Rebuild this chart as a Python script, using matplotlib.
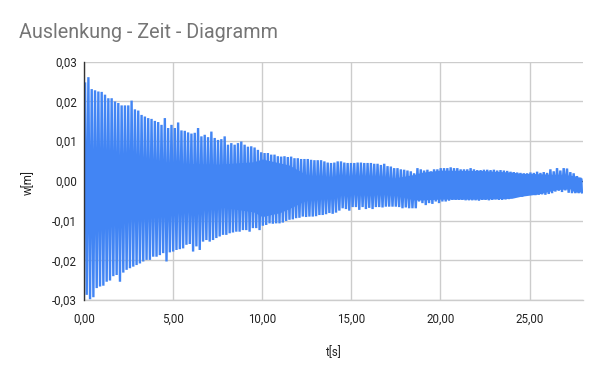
import numpy as np
import matplotlib
matplotlib.use("Agg")
import matplotlib.pyplot as plt
from matplotlib.ticker import FuncFormatter

# ---------------- data ----------------
title = "Auslenkung - Zeit - Diagramm"
x_label = "t[s]"
y_label = "w[m]"

first_peak_time = 0.06     # s
cycle_period = 0.1865      # s, spacing of the visible peaks

upper_peaks = [
    0.0245, 0.0261, 0.0231, 0.0228, 0.0225, 0.0224, 0.0217, 0.0208, 0.0208, 0.0200,
    0.0196, 0.0190, 0.0190, 0.0190, 0.0202, 0.0180, 0.0177, 0.0166, 0.0162, 0.0158,
    0.0156, 0.0151, 0.0148, 0.0141, 0.0158, 0.0133, 0.0141, 0.0133, 0.0147, 0.0127,
    0.0126, 0.0122, 0.0119, 0.0121, 0.0133, 0.0112, 0.0116, 0.0110, 0.0124, 0.0108,
    0.0103, 0.0105, 0.0112, 0.0091, 0.0095, 0.0091, 0.0095, 0.0099, 0.0091, 0.0086,
    0.0087, 0.0084, 0.0078, 0.0072, 0.0070, 0.0070, 0.0066, 0.0066, 0.0062, 0.0061,
    0.0062, 0.0060, 0.0061, 0.0057, 0.0057, 0.0055, 0.0055, 0.0055, 0.0053, 0.0052,
    0.0052, 0.0052, 0.0049, 0.0046, 0.0045, 0.0046, 0.0049, 0.0049, 0.0046, 0.0045,
    0.0045, 0.0045, 0.0046, 0.0046, 0.0045, 0.0045, 0.0045, 0.0043, 0.0043, 0.0040,
    0.0043, 0.0037, 0.0036, 0.0032, 0.0032, 0.0029, 0.0028, 0.0026, 0.0024, 0.0019,
    0.0032, 0.0029, 0.0026, 0.0028, 0.0024, 0.0029, 0.0029, 0.0032, 0.0032, 0.0032,
    0.0034, 0.0032, 0.0032, 0.0029, 0.0029, 0.0029, 0.0032, 0.0029, 0.0027, 0.0027,
    0.0028, 0.0028, 0.0027, 0.0028, 0.0026, 0.0027, 0.0026, 0.0025, 0.0023, 0.0022,
    0.0021, 0.0020, 0.0019, 0.0019, 0.0021, 0.0020, 0.0023, 0.0020, 0.0022, 0.0020,
    0.0029, 0.0024, 0.0032, 0.0026, 0.0032, 0.0031, 0.0022, 0.0019, 0.0012, 0.0008,
]

lower_peaks = [
    -0.0287, -0.0298, -0.0293, -0.0270, -0.0266, -0.0264, -0.0254, -0.0251, -0.0240, -0.0237,
    -0.0254, -0.0231, -0.0224, -0.0220, -0.0216, -0.0212, -0.0208, -0.0203, -0.0199, -0.0199,
    -0.0191, -0.0191, -0.0187, -0.0182, -0.0203, -0.0180, -0.0178, -0.0174, -0.0172, -0.0170,
    -0.0161, -0.0159, -0.0178, -0.0165, -0.0174, -0.0153, -0.0149, -0.0153, -0.0149, -0.0144,
    -0.0140, -0.0136, -0.0136, -0.0132, -0.0130, -0.0128, -0.0128, -0.0124, -0.0124, -0.0128,
    -0.0119, -0.0119, -0.0124, -0.0113, -0.0111, -0.0107, -0.0108, -0.0107, -0.0107, -0.0105,
    -0.0101, -0.0098, -0.0097, -0.0094, -0.0093, -0.0090, -0.0091, -0.0090, -0.0090, -0.0089,
    -0.0086, -0.0086, -0.0084, -0.0081, -0.0083, -0.0080, -0.0075, -0.0069, -0.0071, -0.0075,
    -0.0066, -0.0066, -0.0073, -0.0066, -0.0071, -0.0068, -0.0071, -0.0066, -0.0066, -0.0067,
    -0.0065, -0.0065, -0.0065, -0.0065, -0.0066, -0.0069, -0.0067, -0.0069, -0.0069, -0.0069,
    -0.0052, -0.0056, -0.0061, -0.0056, -0.0058, -0.0052, -0.0056, -0.0052, -0.0052, -0.0050,
    -0.0048, -0.0048, -0.0048, -0.0048, -0.0049, -0.0049, -0.0049, -0.0049, -0.0050, -0.0048,
    -0.0048, -0.0049, -0.0048, -0.0047, -0.0048, -0.0048, -0.0047, -0.0046, -0.0042, -0.0040,
    -0.0040, -0.0040, -0.0037, -0.0035, -0.0035, -0.0036, -0.0035, -0.0034, -0.0035, -0.0033,
    -0.0031, -0.0027, -0.0025, -0.0028, -0.0024, -0.0030, -0.0031, -0.0031, -0.0031, -0.0029,
]

# dense inner band (where the oscillation fills the area solidly)
core_times = [0.0, 1.0, 2.5, 5.0, 7.5, 9.5, 10.0, 11.0, 11.5, 12.5, 13.5, 14.5, 15.5,
              16.7, 17.5, 18.5, 19.0, 20.0, 22.3, 24.0, 24.5, 25.5, 26.5, 27.3, 27.5, 27.95]
core_upper = [0.0065, 0.0060, 0.0055, 0.0045, 0.0042, 0.0048, 0.0055, 0.0045, 0.0040,
              0.0015, 0.0007, -0.0004, -0.0008, -0.0002, 0.0008, 0.0016, 0.0022, 0.0027,
              0.0026, 0.0022, 0.0019, 0.0018, 0.0016, 0.0014, 0.0013, 0.0007]
core_lower = [-0.0100, -0.0095, -0.0088, -0.0080, -0.0065, -0.0078, -0.0090, -0.0080,
              -0.0070, -0.0048, -0.0035, -0.0014, -0.0018, -0.0022, -0.0035, -0.0048,
              -0.0048, -0.0046, -0.0046, -0.0044, -0.0039, -0.0033, -0.0022, -0.0020,
              -0.0028, -0.0028]

x_ticks = [0, 5, 10, 15, 20, 25]
y_ticks = [-0.03, -0.02, -0.01, 0.0, 0.01, 0.02, 0.03]
x_max = 28.0

# ---------------- style ----------------
blue = "#4285F4"
grid_col = "#cccccc"
axis_col = "#333333"
text_col = "#222222"
title_col = "#757575"
plt.rcParams["font.family"] = ["Roboto", "DejaVu Sans"]

fig = plt.figure(figsize=(6.0, 3.71), dpi=100)
ax = fig.add_axes([84 / 600, 1 - 300 / 371, (583 - 84) / 600, (300 - 61.7) / 371])

# zig-zag series through the alternating peaks
n = len(upper_peaks)
t_up = first_peak_time + cycle_period * np.arange(n)
t_lo = t_up + cycle_period / 2
t_series = np.empty(2 * n)
w_series = np.empty(2 * n)
t_series[0::2] = t_up
t_series[1::2] = t_lo
w_series[0::2] = upper_peaks
w_series[1::2] = lower_peaks

ax.axhline(0, color=axis_col, lw=1.0, zorder=1.5)
ax.fill_between(core_times, core_lower, core_upper, color=blue, lw=0, zorder=2)
ax.plot(t_series, w_series, color=blue, lw=1.7, zorder=3, solid_joinstyle="bevel")

ax.set_xlim(0, x_max)
ax.set_ylim(y_ticks[0], y_ticks[-1])
ax.set_xticks(x_ticks)
ax.set_yticks(y_ticks)
fmt = FuncFormatter(lambda v, p: f"{v:.2f}".replace(".", ",").replace("-0,00", "0,00"))
ax.xaxis.set_major_formatter(fmt)
ax.yaxis.set_major_formatter(fmt)
ax.grid(True, color=grid_col, lw=1.0, zorder=0)
ax.set_axisbelow(True)
ax.tick_params(length=0, labelsize=8.3, labelcolor=text_col)
ax.tick_params(axis="y", pad=5)
ax.tick_params(axis="x", pad=9)

for s in ("top", "right"):
    ax.spines[s].set_visible(False)
ax.spines["bottom"].set_color(grid_col)
ax.spines["bottom"].set_linewidth(1.0)
ax.spines["left"].set_color(axis_col)
ax.spines["left"].set_linewidth(1.0)
ax.spines["left"].set_zorder(5)

fig.text(19 / 600, 1 - 32 / 371, title, fontsize=14.2, color=title_col, ha="left", va="center")
fig.text(334 / 600, 1 - 353 / 371, x_label, fontsize=8.3, color=text_col, ha="center", va="center")
fig.text(28 / 600, 1 - 183 / 371, y_label, fontsize=8.3, color=text_col, ha="center", va="center",
         rotation=90)

fig.savefig("out.png", dpi=100, facecolor="white")
